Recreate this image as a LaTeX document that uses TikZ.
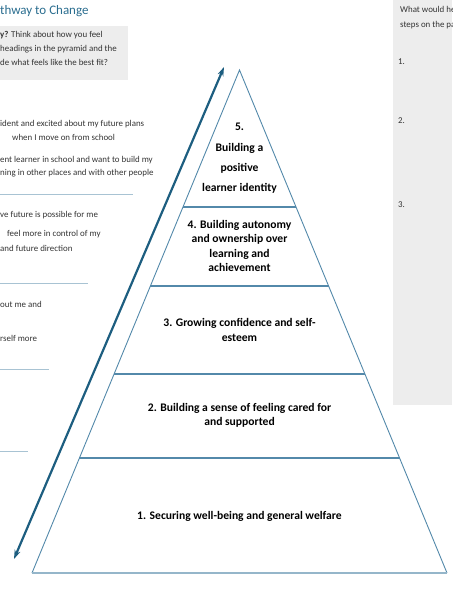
\documentclass[tikz,border=0pt]{standalone}
\usepackage{fontspec}
\setmainfont{Carlito}
\usetikzlibrary{arrows.meta,positioning,calc}
\definecolor{pathblue}{HTML}{1D5E80}
\definecolor{titleblue}{HTML}{2A6D8F}
\definecolor{edgeblue}{HTML}{5389AA}
\definecolor{baseblue}{HTML}{95B6CA}
\definecolor{panelgrey}{HTML}{EDEDED}
\definecolor{rulegrey}{HTML}{A8C3D3}

\begin{document}
\begin{tikzpicture}[x=1pt,y=-1pt,>=Stealth,
  every node/.style={inner sep=0pt},
  note/.style={anchor=base west,font=\fontsize{8.9}{10}\selectfont,text=black!80},
  level/.style={align=center,font=\fontsize{11.6}{14.6}\selectfont\bfseries},
  sepline/.style={rulegrey,line width=0.8pt},
  edge/.style={edgeblue,line width=0.9pt},
  tier/.style={edgeblue,line width=1.1pt},
  baserule/.style={baseblue,line width=1.6pt},
  climb/.style={pathblue,line width=2.2pt,{Stealth[length=9pt,width=6pt]}-{Stealth[length=9pt,width=6pt]}}]
\useasboundingbox (0,0) rectangle (452,591);

% grey panels
\fill[panelgrey] (0,26) rectangle (128,80);
\fill[panelgrey] (393,0) rectangle (452,405);

% title and prompt
\node[anchor=base west,font=\fontsize{13}{15}\selectfont,text=titleblue] (title) at (0,14.5) {thway to Change};
\node[note] (ask1) at (0,38) {\textbf{y?} Think about how you feel};
\node[note] (ask2) at (0,52) {headings in the pyramid and the};
\node[note] (ask3) at (0,66) {de what feels like the best fit?};

% statements on the left
\node[note] (s1) at (0,127) {ident and excited about my future plans};
\node[note] (s2) at (12,140) {when I move on from school};
\node[note] (s3) at (0,162) {ent learner in school and want to build my};
\node[note] (s4) at (0,175) {ning in other places and with other people};
\node[note] (s5) at (0,217) {ve future is possible for me};
\node[note] (s6) at (7,236) {feel more in control of my};
\node[note] (s7) at (0,251) {and future direction};
\node[note] (s8) at (0,307) {out me and};
\node[note] (s9) at (0,341) {rself more};
\draw[sepline] (0,194) -- (133,194);
\draw[sepline] (0,283) -- (88,283);
\draw[sepline] (0,369) -- (49,369);
\draw[sepline] (0,451) -- (28,451);

% right panel
\node[note] (q1) at (400,13) {What would he};
\node[note] (q2) at (400,28) {steps on the pa};
\node[note] (n1) at (398,65) {1.};
\node[note] (n2) at (398,124) {2.};
\node[note] (n3) at (398,207) {3.};

% pyramid
\coordinate (apex) at (239.5,70);
\coordinate (bl) at (32,573);
\coordinate (br) at (447,573);
\fill[white] (bl) -- (apex) -- (br) -- cycle;
\draw[edge] (bl) -- (apex) -- (br);
\draw[baserule] (bl) -- (br);
\foreach \t in {0.2724,0.4294,0.6044,0.7714}
  \draw[tier] ($(apex)!\t!(bl)$) -- ($(apex)!\t!(br)$);

\node[level,font=\fontsize{11.6}{20.3}\selectfont\bfseries] (l5) at (239.5,158.5)
  {5.\\Building a\\positive\\learner identity};
\node[level] (l4) at (239.5,246) {4. Building autonomy\\and ownership over\\learning and\\achievement};
\node[level] (l3) at (239.5,330) {3. Growing confidence and self-\\esteem};
\node[level] (l2) at (239.5,415.5) {2. Building a sense of feeling cared for\\and supported};
\node[level] (l1) at (239.5,516) {1. Securing well-being and general welfare};

% arrow
\coordinate (down) at (14,559);
\coordinate (up) at (224,67);
\draw[climb] (down) -- (up);
\end{tikzpicture}
\end{document}
